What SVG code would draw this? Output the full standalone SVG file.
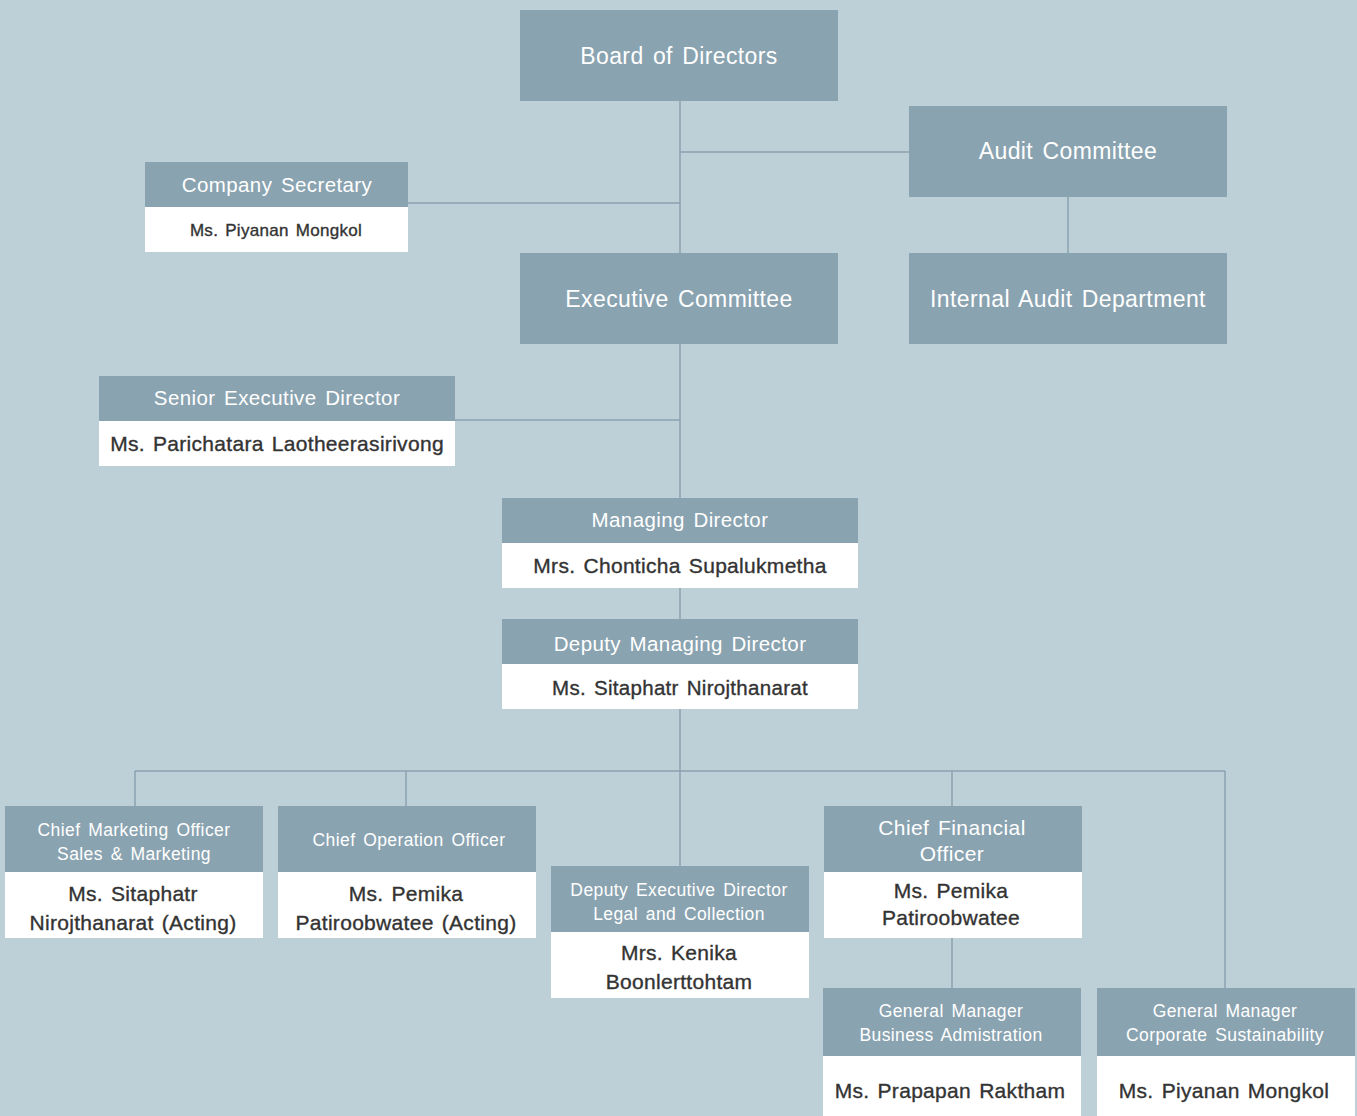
<svg xmlns="http://www.w3.org/2000/svg" width="1357" height="1116" viewBox="0 0 1357 1116">
<style>
.hd{fill:#8aa3b0}
.wt{fill:#ffffff}
.ht{fill:#ffffff;font-family:"Liberation Sans",Arial,sans-serif;text-anchor:middle;letter-spacing:0.4px;word-spacing:2.5px}
.nt{fill:#333333;font-family:"Liberation Sans",Arial,sans-serif;text-anchor:middle;stroke:#333333;stroke-width:0.35px;letter-spacing:0.3px;word-spacing:2px}
.ln{stroke:#8aa3b0;stroke-width:1.5;fill:none}
</style>
<rect width="1357" height="1116" fill="#bdcfd7"/>
<g id="connectors">
<path class="ln" d="M680 101V253M680 152H909M408 203H680M1068 197V253M680 344V498M455 420H680M680 588V619M680 709V866M135 771H1225M135 771V806M406 771V806M952 771V806M1225 771V988M952 938V988"/>
</g>
<g id="board">
<rect class="hd" x="520" y="10" width="318" height="91"/>
<text class="ht" x="679" y="64" font-size="23">Board of Directors</text>
</g>
<g id="audit">
<rect class="hd" x="909" y="106" width="318" height="91"/>
<text class="ht" x="1068" y="159" font-size="23">Audit Committee</text>
</g>
<g id="secretary">
<rect class="hd" x="145" y="162" width="263" height="45"/>
<rect class="wt" x="145" y="207" width="263" height="45"/>
<text class="ht" x="277" y="192" font-size="20.5">Company Secretary</text>
<text class="nt" x="276" y="236" font-size="17">Ms. Piyanan Mongkol</text>
</g>
<g id="exec">
<rect class="hd" x="520" y="253" width="318" height="91"/>
<text class="ht" x="679" y="307" font-size="23">Executive Committee</text>
</g>
<g id="internal-audit">
<rect class="hd" x="909" y="253" width="318" height="91"/>
<text class="ht" x="1068" y="307" font-size="23">Internal Audit Department</text>
</g>
<g id="senior">
<rect class="hd" x="99" y="376" width="356" height="45"/>
<rect class="wt" x="99" y="421" width="356" height="45"/>
<text class="ht" x="277" y="405" font-size="20.5">Senior Executive Director</text>
<text class="nt" x="277" y="451" font-size="21">Ms. Parichatara Laotheerasirivong</text>
</g>
<g id="md">
<rect class="hd" x="502" y="498" width="356" height="45"/>
<rect class="wt" x="502" y="543" width="356" height="45"/>
<text class="ht" x="680" y="527" font-size="20.5">Managing Director</text>
<text class="nt" x="680" y="573" font-size="21">Mrs. Chonticha Supalukmetha</text>
</g>
<g id="dmd">
<rect class="hd" x="502" y="619" width="356" height="45"/>
<rect class="wt" x="502" y="664" width="356" height="45"/>
<text class="ht" x="680" y="651" font-size="20.5">Deputy Managing Director</text>
<text class="nt" x="680" y="695" font-size="20.5">Ms. Sitaphatr Nirojthanarat</text>
</g>
<g id="cmo">
<rect class="hd" x="5" y="806" width="258" height="66"/>
<rect class="wt" x="5" y="872" width="258" height="66"/>
<text class="ht" x="134" y="836" font-size="17.5">Chief Marketing Officer</text>
<text class="ht" x="134" y="860" font-size="17.5">Sales &amp; Marketing</text>
<text class="nt" x="133" y="901" font-size="21">Ms. Sitaphatr</text>
<text class="nt" x="133" y="930" font-size="21">Nirojthanarat (Acting)</text>
</g>
<g id="coo">
<rect class="hd" x="278" y="806" width="258" height="66"/>
<rect class="wt" x="278" y="872" width="258" height="66"/>
<text class="ht" x="409" y="846" font-size="17.5">Chief Operation Officer</text>
<text class="nt" x="406" y="901" font-size="21">Ms. Pemika</text>
<text class="nt" x="406" y="930" font-size="21">Patiroobwatee (Acting)</text>
</g>
<g id="dep-exec">
<rect class="hd" x="551" y="866" width="258" height="66"/>
<rect class="wt" x="551" y="932" width="258" height="66"/>
<text class="ht" x="679" y="896" font-size="17.5">Deputy Executive Director</text>
<text class="ht" x="679" y="920" font-size="17.5">Legal and Collection</text>
<text class="nt" x="679" y="960" font-size="21">Mrs. Kenika</text>
<text class="nt" x="679" y="989" font-size="21">Boonlerttohtam</text>
</g>
<g id="cfo">
<rect class="hd" x="824" y="806" width="258" height="66"/>
<rect class="wt" x="824" y="872" width="258" height="66"/>
<text class="ht" x="952" y="835" font-size="21">Chief Financial</text>
<text class="ht" x="952" y="861" font-size="21">Officer</text>
<text class="nt" x="951" y="898" font-size="21">Ms. Pemika</text>
<text class="nt" x="951" y="925" font-size="21">Patiroobwatee</text>
</g>
<g id="gm-business">
<rect class="hd" x="823" y="988" width="258" height="68"/>
<rect class="wt" x="823" y="1056" width="258" height="60"/>
<text class="ht" x="951" y="1017" font-size="17.5">General Manager</text>
<text class="ht" x="951" y="1041" font-size="17.5">Business Admistration</text>
<text class="nt" x="950" y="1098" font-size="21">Ms. Prapapan Raktham</text>
</g>
<g id="gm-corporate">
<rect class="hd" x="1097" y="988" width="258" height="68"/>
<rect class="wt" x="1097" y="1056" width="258" height="60"/>
<text class="ht" x="1225" y="1017" font-size="17.5">General Manager</text>
<text class="ht" x="1225" y="1041" font-size="17.5">Corporate Sustainability</text>
<text class="nt" x="1224" y="1098" font-size="21">Ms. Piyanan Mongkol</text>
</g>
</svg>
